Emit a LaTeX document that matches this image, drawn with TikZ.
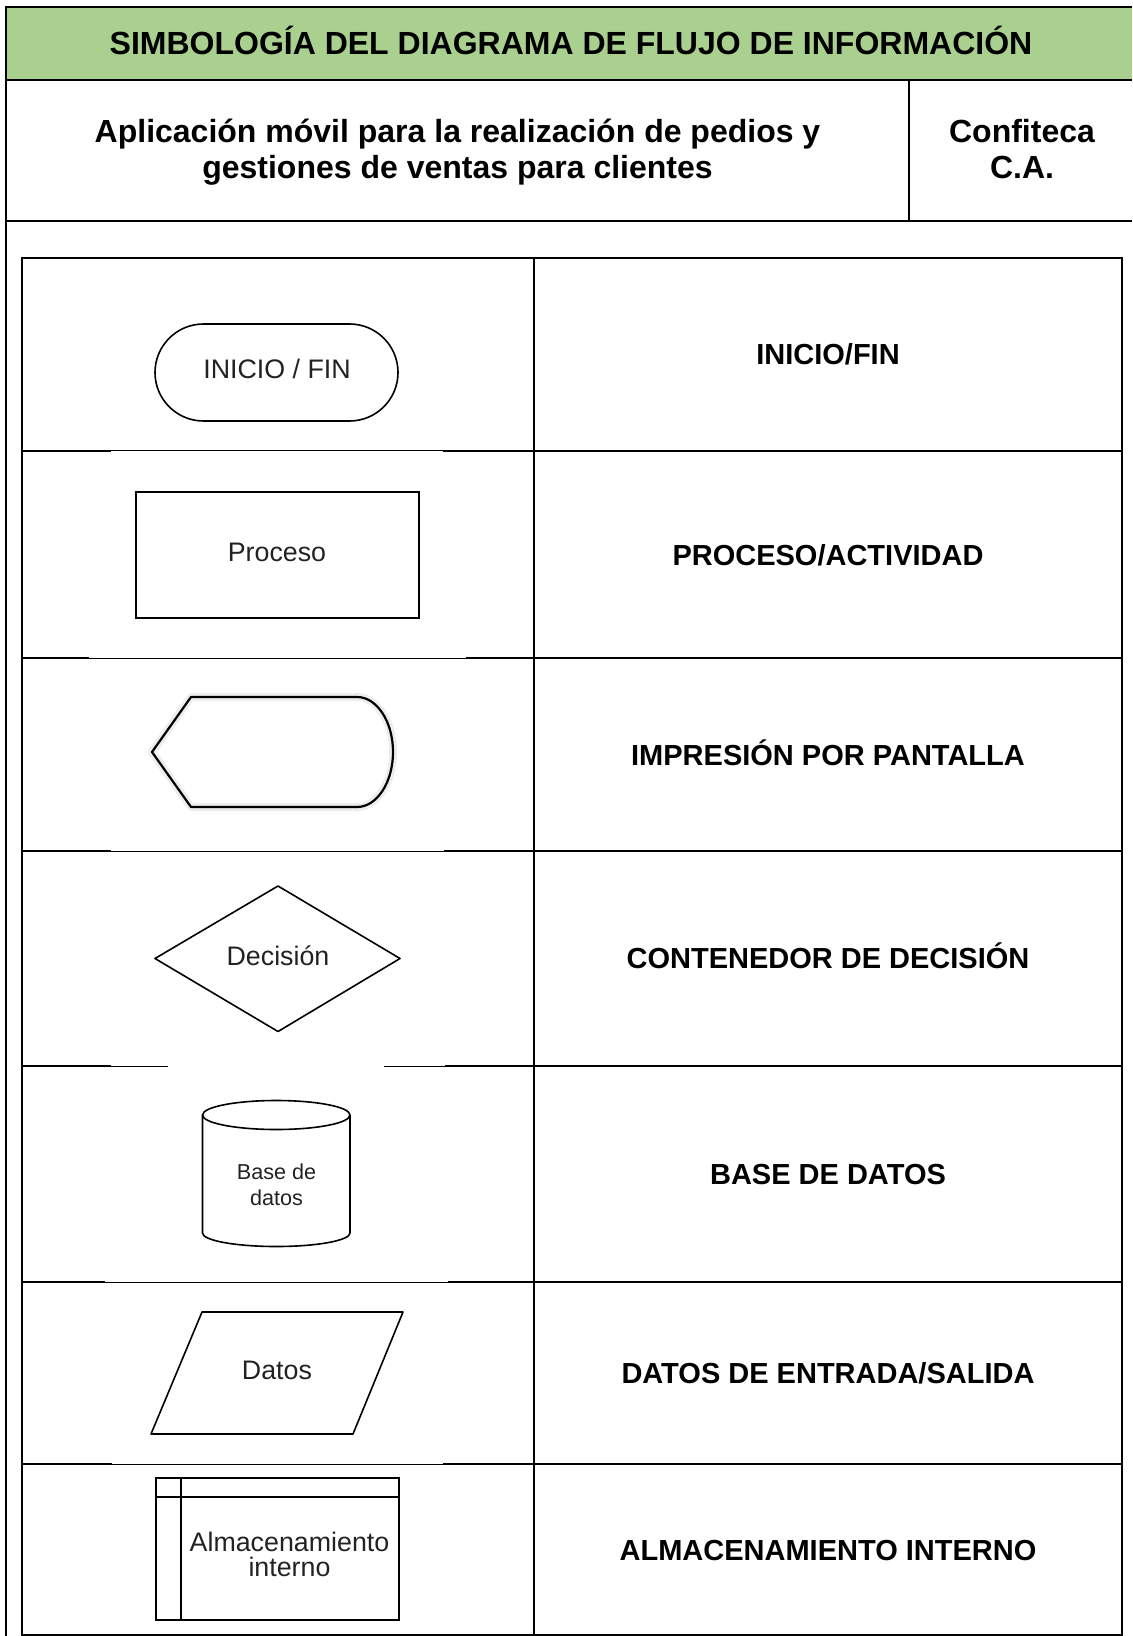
\documentclass[tikz,border=0pt]{standalone}
\usepackage{fontspec}
\setmainfont{Liberation Sans}
\definecolor{bandgreen}{HTML}{A9D08E}
\definecolor{symink}{HTML}{222222}

\tikzset{
  frame/.style={line width=1pt, draw=black},
  thinrule/.style={line width=0.5pt, draw=black},
  symline/.style={line width=0.8pt, draw=black, line join=round},
  symbold/.style={line width=1pt, draw=black, line join=miter},
  halo/.style={line width=4pt, draw=black!7, line join=round},
  headtext/.style={font=\bfseries\fontsize{16}{19}\selectfont, anchor=base, inner sep=0pt},
  labeltext/.style={font=\bfseries\fontsize{14.5}{17}\selectfont, anchor=base, inner sep=0pt},
  symtext/.style={font=\fontsize{13.4}{16}\selectfont, text=symink, anchor=base, inner sep=0pt},
  smalltext/.style={font=\fontsize{10.8}{13}\selectfont, text=symink, anchor=base, inner sep=0pt},
}

\begin{document}
\begin{tikzpicture}[x=0.5pt,y=-0.5pt]
\useasboundingbox (0,0) rectangle (1132,1636);

% ---------- heading block ----------
\fill[bandgreen] (6,7) rectangle (1132,80);
\draw[frame] (1132,7) -- (6,7) -- (6,1636);
\draw[frame] (6,80) -- (1132,80);
\draw[frame] (6,221) -- (1132,221);
\draw[frame] (909,80) -- (909,221);

\node[headtext] (title) at (571,54.5) {SIMBOLOGÍA DEL DIAGRAMA DE FLUJO DE INFORMACIÓN};
\node[headtext] (app1) at (457.5,143) {Aplicación móvil para la realización de pedios y};
\node[headtext] (app2) at (457.5,178.5) {gestiones de ventas para clientes};
\node[headtext] (comp1) at (1022,143) {Confiteca};
\node[headtext] (comp2) at (1022,178.5) {C.A.};

% ---------- symbol table ----------
\draw[frame] (22,258) rectangle (1122,1635);
\draw[frame] (534,258) -- (534,1635);

% row separators (left half partly thinner where the symbol images overlap)
\draw[frame] (22,451) -- (111,451);   \draw[thinrule] (111,451) -- (443,451);   \draw[frame] (443,451) -- (1122,451);
\draw[frame] (22,658) -- (89,658);    \draw[thinrule] (89,658) -- (466,658);    \draw[frame] (466,658) -- (1122,658);
\draw[frame] (22,851) -- (111,851);   \draw[thinrule] (111,851) -- (444,851);   \draw[frame] (444,851) -- (1122,851);
\draw[frame] (22,1066) -- (111,1066); \draw[thinrule] (111,1066) -- (168,1066);
\draw[thinrule] (384,1066) -- (445,1066); \draw[frame] (445,1066) -- (1122,1066);
\draw[frame] (22,1282) -- (105,1282); \draw[thinrule] (105,1282) -- (448,1282); \draw[frame] (448,1282) -- (1122,1282);
\draw[frame] (22,1464) -- (112,1464); \draw[thinrule] (112,1464) -- (443,1464); \draw[frame] (443,1464) -- (1122,1464);

% terminal
\draw[symline] (203.5,324) -- (349.5,324) arc[start angle=-90,end angle=90,radius=48.5]
  -- (203.5,421) arc[start angle=90,end angle=270,radius=48.5] -- cycle;
\node[symtext] (tinicio) at (277,378.6) {INICIO / FIN};

% process
\draw[symbold] (136,492) rectangle (419,618);
\node[symtext] (tproceso) at (277,561.5) {Proceso};

% display
\draw[halo] (152,752) -- (191,697) -- (357,697) arc[start angle=-90,end angle=90,x radius=36,y radius=55]
  -- (191,807) -- cycle;
\draw[line width=1.1pt, line join=round] (152,752) -- (191,697) -- (357,697)
  arc[start angle=-90,end angle=90,x radius=36,y radius=55] -- (191,807) -- cycle;

% decision
\draw[symline] (155,958.5) -- (278,886) -- (400,958.5) -- (278,1031.5) -- cycle;
\node[symtext] (tdecision) at (278,965.5) {Decisión};

% database
\draw[symline] (276.25,1115) ellipse[x radius=73.75,y radius=14.5];
\draw[symline] (202.5,1115) -- (202.5,1233) arc[start angle=180,end angle=0,x radius=73.75,y radius=13.5] -- (350,1115);
\node[smalltext] (tbase1) at (276.5,1179) {Base de};
\node[smalltext] (tbase2) at (276.5,1205) {datos};

% input / output
\draw[symline] (202,1312) -- (403,1312) -- (353,1434) -- (151,1434) -- cycle;
\node[symtext] (tdatos) at (277,1379.5) {Datos};

% internal storage
\draw[symbold] (156,1478) rectangle (398.5,1620);
\draw[symbold] (156,1497) -- (398.5,1497);
\draw[symbold] (180.5,1478) -- (180.5,1620);
\node[symtext] (talm1) at (289.5,1551.5) {Almacenamiento};
\node[symtext] (talm2) at (289.5,1576.5) {interno};

% descriptions
\node[labeltext] (linicio) at (828,365) {INICIO/FIN};
\node[labeltext] (lproceso) at (828,565) {PROCESO/ACTIVIDAD};
\node[labeltext] (limpresion) at (828,765) {IMPRESIÓN POR PANTALLA};
\node[labeltext] (ldecision) at (828,968.5) {CONTENEDOR DE DECISIÓN};
\node[labeltext] (lbase) at (828,1184.5) {BASE DE DATOS};
\node[labeltext] (ldatos) at (828,1383.5) {DATOS DE ENTRADA/SALIDA};
\node[labeltext] (lalm) at (828,1560.5) {ALMACENAMIENTO INTERNO};
\end{tikzpicture}
\end{document}
